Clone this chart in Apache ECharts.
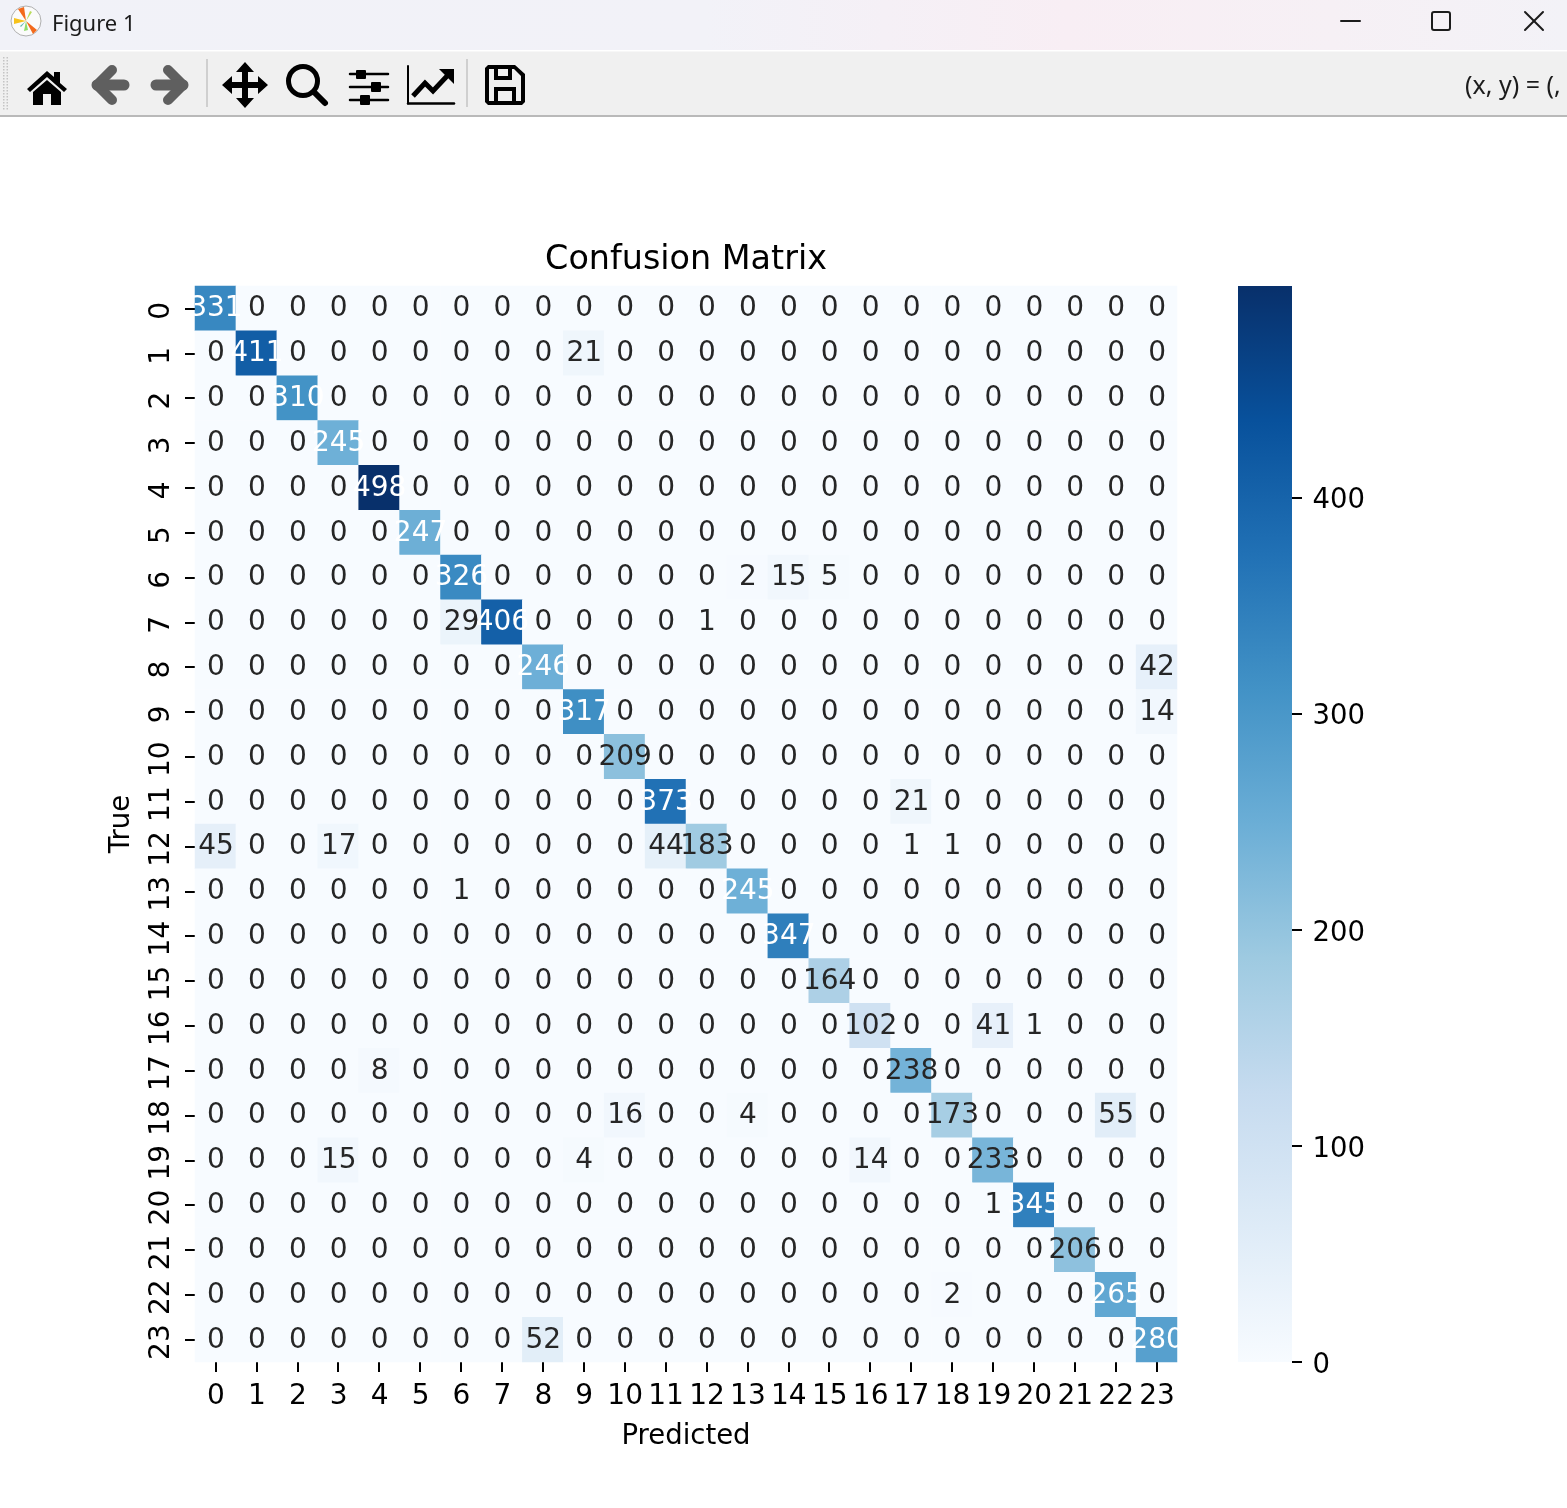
<!DOCTYPE html>
<html>
<head>
<meta charset="utf-8">
<title>Confusion Matrix</title>
<style>html,body{margin:0;padding:0;background:#fff}#c{width:1567px;height:1508px}</style>
<script src="https://cdn.jsdelivr.net/npm/echarts@6/dist/echarts.min.js"></script>
</head>
<body>
<div id="c"></div>
<script>
const categories = ['0','1','2','3','4','5','6','7','8','9','10','11','12','13','14','15','16','17','18','19','20','21','22','23'];
const matrix = [
[331,0,0,0,0,0,0,0,0,0,0,0,0,0,0,0,0,0,0,0,0,0,0,0],
[0,411,0,0,0,0,0,0,0,21,0,0,0,0,0,0,0,0,0,0,0,0,0,0],
[0,0,310,0,0,0,0,0,0,0,0,0,0,0,0,0,0,0,0,0,0,0,0,0],
[0,0,0,245,0,0,0,0,0,0,0,0,0,0,0,0,0,0,0,0,0,0,0,0],
[0,0,0,0,498,0,0,0,0,0,0,0,0,0,0,0,0,0,0,0,0,0,0,0],
[0,0,0,0,0,247,0,0,0,0,0,0,0,0,0,0,0,0,0,0,0,0,0,0],
[0,0,0,0,0,0,326,0,0,0,0,0,0,2,15,5,0,0,0,0,0,0,0,0],
[0,0,0,0,0,0,29,406,0,0,0,0,1,0,0,0,0,0,0,0,0,0,0,0],
[0,0,0,0,0,0,0,0,246,0,0,0,0,0,0,0,0,0,0,0,0,0,0,42],
[0,0,0,0,0,0,0,0,0,317,0,0,0,0,0,0,0,0,0,0,0,0,0,14],
[0,0,0,0,0,0,0,0,0,0,209,0,0,0,0,0,0,0,0,0,0,0,0,0],
[0,0,0,0,0,0,0,0,0,0,0,373,0,0,0,0,0,21,0,0,0,0,0,0],
[45,0,0,17,0,0,0,0,0,0,0,44,183,0,0,0,0,1,1,0,0,0,0,0],
[0,0,0,0,0,0,1,0,0,0,0,0,0,245,0,0,0,0,0,0,0,0,0,0],
[0,0,0,0,0,0,0,0,0,0,0,0,0,0,347,0,0,0,0,0,0,0,0,0],
[0,0,0,0,0,0,0,0,0,0,0,0,0,0,0,164,0,0,0,0,0,0,0,0],
[0,0,0,0,0,0,0,0,0,0,0,0,0,0,0,0,102,0,0,41,1,0,0,0],
[0,0,0,0,8,0,0,0,0,0,0,0,0,0,0,0,0,238,0,0,0,0,0,0],
[0,0,0,0,0,0,0,0,0,0,16,0,0,4,0,0,0,0,173,0,0,0,55,0],
[0,0,0,15,0,0,0,0,0,4,0,0,0,0,0,0,14,0,0,233,0,0,0,0],
[0,0,0,0,0,0,0,0,0,0,0,0,0,0,0,0,0,0,0,1,345,0,0,0],
[0,0,0,0,0,0,0,0,0,0,0,0,0,0,0,0,0,0,0,0,0,206,0,0],
[0,0,0,0,0,0,0,0,0,0,0,0,0,0,0,0,0,0,2,0,0,0,265,0],
[0,0,0,0,0,0,0,0,52,0,0,0,0,0,0,0,0,0,0,0,0,0,0,280]
];
const colorbarTicks = [0,100,200,300,400];
const colorbarMax = [498];
const blues = ['#f7fbff','#deebf7','#c6dbef','#9ecae1','#6baed6','#4292c6','#2171b5','#08519c','#08306b'];

const FONT = '"DejaVu Sans"';
const UI = '"Noto Sans"';
const cells = [];
matrix.forEach((row, r) => row.forEach((v, c) => {
  cells.push({ value: [c, r, v], label: { color: v > 240 ? '#ffffff' : '#262626' } });
}));

// Window chrome drawn with ECharts graphic elements
const black = '#000000', grey = '#5f5f5f', bar = '#f0f0f0';
const poly = (points, fill) => ({ type: 'polygon', shape: { points }, style: { fill } });
const rect = (x, y, w, h, fill, r) => ({ type: 'rect', shape: { x, y, width: w, height: h, r: r || 0 }, style: { fill } });
const line = (x1, y1, x2, y2, stroke, lw) => ({ type: 'line', shape: { x1, y1, x2, y2 }, style: { stroke, lineWidth: lw, lineCap: 'round' } });
const pl = (points, stroke, lw) => ({ type: 'polyline', shape: { points }, style: { stroke, lineWidth: lw, fill: 'none', lineCap: 'round', lineJoin: 'round' } });
const grip = [];
for (let gy = 57; gy < 110; gy += 3) { grip.push(rect(3, gy, 1.5, 1.5, '#c4c4c4')); grip.push(rect(6.5, gy, 1.5, 1.5, '#c4c4c4')); }
const chrome = [
  { type: 'rect', shape: { x: 0, y: 0, width: 1567, height: 50 }, style: { fill: new echarts.graphic.LinearGradient(0, 0, 1, 0, [
    { offset: 0, color: '#f1f2f8' }, { offset: 0.45, color: '#f2f2f8' }, { offset: 0.68, color: '#f8eef4' }, { offset: 0.85, color: '#f6f0f5' }, { offset: 1, color: '#f3f2f7' }]) } },
  rect(0, 50, 1567, 1.5, '#ffffff'),
  rect(0, 51.5, 1567, 63.5, bar),
  rect(0, 115, 1567, 2, '#b9b9b9'),
  ...grip,
  // logo
  { type: 'circle', shape: { cx: 26, cy: 21, r: 15 }, style: { fill: '#fbfbfb', stroke: '#b0b0b0', lineWidth: 1 } },
  poly([[26,21],[18,9],[24,7]], '#f36a1c'),
  poly([[26,21],[37,30],[33,34]], '#f36a1c'),
  poly([[26,21],[14,18],[14,24]], '#f7c21b'),
  poly([[26,21],[30,11],[32,12]], '#b9dc5a'),
  poly([[26,21],[24,31],[28,30]], '#8fdc6a'),
  poly([[26,21],[20,26],[21,27]], '#5fb7b0'),
  { type: 'text', style: { x: 52, y: 24.5, text: 'Figure 1', font: '22px ' + UI, fill: '#1c1c1c', textVerticalAlign: 'middle', textBaseline: 'middle' } },
  line(1341, 21, 1360, 21, '#1c1c1c', 2),
  { type: 'rect', shape: { x: 1432, y: 12, width: 18, height: 18, r: 2 }, style: { fill: 'none', stroke: '#1c1c1c', lineWidth: 2 } },
  line(1525, 12, 1543, 30, '#1c1c1c', 2),
  line(1543, 12, 1525, 30, '#1c1c1c', 2),
  // home
  poly([[47,71],[54,77],[54,72],[60,72],[60,83],[67,89],[64,92],[47,77],[30,92],[27,89]], black),
  poly([[33,92],[47,80],[61,92],[61,105],[51,105],[51,94],[43,94],[43,105],[33,105]], black),
  // arrows
  pl([[112,70],[97,85],[112,100]], grey, 10), line(97, 85, 124, 85, grey, 11),
  pl([[168,70],[183,85],[168,100]], grey, 10), line(156, 85, 183, 85, grey, 11),
  rect(206, 59, 2, 48, '#cfcfcf'),
  // move
  poly([[245,62],[254,72],[248,72],[248,82],[258,82],[258,76],[268,85],[258,94],[258,88],[248,88],[248,98],[254,98],[245,108],[236,98],[242,98],[242,88],[232,88],[232,94],[222,85],[232,76],[232,82],[242,82],[242,72],[236,72]], black),
  // zoom
  { type: 'circle', shape: { cx: 303, cy: 81, r: 14.5 }, style: { fill: 'none', stroke: black, lineWidth: 5 } },
  line(315, 93, 325, 103, black, 6),
  // sliders
  line(350, 74, 388, 74, black, 2.5), line(350, 87, 388, 87, black, 2.5), line(350, 100, 388, 100, black, 2.5),
  rect(356, 70, 10, 9, black, 1), rect(371, 82, 10, 10, black, 1), rect(360, 95, 10, 10, black, 1),
  // chart
  line(408, 66, 408, 103.5, black, 2), line(408, 103.5, 454, 103.5, black, 2.5),
  { type: 'polyline', shape: { points: [[413, 96],[425, 83],[433, 91],[448, 75]] }, style: { stroke: black, lineWidth: 5, fill: 'none' } },
  poly([[439, 69],[454, 69],[454, 84]], black),
  rect(466, 59, 2, 48, '#cfcfcf'),
  // save
  poly([[488,65],[515,65],[525,74],[525,102],[522,105],[488,105],[485,102],[485,68]], black),
  poly([[489,69],[514,69],[521,76],[521,101],[489,101]], bar),
  rect(494, 65, 18, 15, black), rect(498, 69, 10, 7, bar),
  rect(494, 87, 22, 18, black), rect(498, 91, 14, 10, bar),
  { type: 'text', style: { x: 1465, y: 87, text: '(x, y) = (,', font: '25px ' + UI, fill: '#1c1c1c', textVerticalAlign: 'middle', textBaseline: 'middle' } }
];

const chart = echarts.init(document.getElementById('c'), null, { renderer: 'canvas', width: 1567, height: 1508 });
chart.setOption({
  animation: false,
  backgroundColor: '#ffffff',
  textStyle: { fontFamily: FONT },
  title: { text: 'Confusion Matrix', left: 681, top: 239, textAlign: 'center',
    textStyle: { fontFamily: FONT, fontSize: 33.4, fontWeight: 'normal', color: '#000000' } },
  graphic: { elements: chrome },
  grid: [
    { left: 195, top: 286, width: 982, height: 1076 },
    { left: 1238, top: 286, width: 54, height: 1076 }
  ],
  xAxis: [
    { type: 'category', gridIndex: 0, data: categories, position: 'bottom',
      name: 'Predicted', nameLocation: 'middle', nameGap: 61,
      nameTextStyle: { fontFamily: FONT, fontSize: 27.5, color: '#000' },
      axisLine: { show: false },
      axisTick: { show: true, alignWithLabel: true, length: 10, lineStyle: { color: '#000', width: 2 } },
      axisLabel: { interval: 0, margin: 21, padding: [0, 0, 0, 1], fontFamily: FONT, fontSize: 28, color: '#000', hideOverlap: false },
      splitLine: { show: false }, splitArea: { show: false } },
    { type: 'category', gridIndex: 1, data: [''], show: false }
  ],
  yAxis: [
    { type: 'category', gridIndex: 0, data: categories, inverse: true,
      name: 'True', nameLocation: 'middle', nameGap: 59, nameRotate: 90,
      nameTextStyle: { fontFamily: FONT, fontSize: 27.5, color: '#000' },
      axisLine: { show: false },
      axisTick: { show: true, alignWithLabel: true, length: 10, lineStyle: { color: '#000', width: 2 } },
      axisLabel: { interval: 0, rotate: 90, margin: 19, padding: [0, 5, 0, 0], fontFamily: FONT, fontSize: 28, color: '#000', hideOverlap: false },
      splitLine: { show: false }, splitArea: { show: false } },
    { type: 'value', gridIndex: 1, position: 'right', min: 0, max: colorbarMax[0],
      axisLine: { show: false },
      axisTick: { show: true, length: 10, customValues: colorbarTicks, lineStyle: { color: '#000', width: 2 } },
      axisLabel: { show: true, margin: 20.5, verticalAlign: 'top', lineHeight: 7, customValues: colorbarTicks, fontFamily: FONT, fontSize: 27.5, color: '#000' },
      splitLine: { show: false } }
  ],
  visualMap: { show: false, seriesIndex: 0, dimension: 2, min: 0, max: colorbarMax[0], inRange: { color: blues } },
  series: [
    { type: 'heatmap', xAxisIndex: 0, yAxisIndex: 0, data: cells,
      itemStyle: { borderWidth: 0 },
      emphasis: { disabled: true },
      label: { show: true, fontFamily: FONT, fontSize: 28, offset: [0.5, 0.8], formatter: p => String(p.value[2]) } },
    { type: 'bar', xAxisIndex: 1, yAxisIndex: 1, data: colorbarMax, barWidth: '100%', silent: true,
      itemStyle: { color: new echarts.graphic.LinearGradient(0, 1, 0, 0, blues.map((c, i) => ({ offset: i / (blues.length - 1), color: c }))) } }
  ]
});
</script>
</body>
</html>
